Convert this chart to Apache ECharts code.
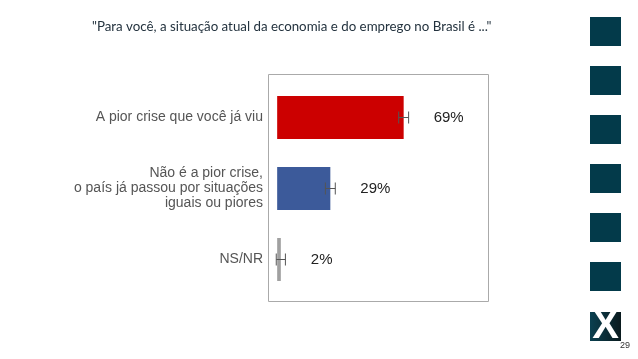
<!DOCTYPE html>
<html><head><meta charset="utf-8">
<script src="https://cdn.jsdelivr.net/npm/echarts@6/dist/echarts.min.js"></script>
<style>html,body{margin:0;padding:0;background:#fff}#c{width:638px;height:359px}</style>
</head><body><div id="c"></div>
<script>
const titleText = '"Para você, a situação atual da economia e do emprego no Brasil é ..."';
const categories = ['A pior crise que você já viu', 'Não é a pior crise,\no país já passou por situações\niguais ou piores', 'NS/NR'];
const values = [69, 29, 2];
const errors = [2.7, 2.7, 2.5];
const colors = ['#cc0000', '#3c5a9a', '#a0a0a0'];
const pageNumber = '29';

const errData = values.map((v, i) => [v - errors[i], v + errors[i], i]);

const squares = [];
const sqTops = [17, 66, 115, 164, 213, 262];
sqTops.forEach(t => squares.push({type:'rect', shape:{x:590, y:t, width:31, height:29}, style:{fill:'#033a4a'}, silent:true}));

const chart = echarts.init(document.getElementById('c'));
chart.setOption({
  animation:false,
  title:{text:titleText, left:87, top:15, textStyle:{fontFamily:'Lato', fontSize:13.3, fontWeight:'normal', color:'#24333f'}},
  grid:{left:268, right:150, top:82, bottom:64},
  xAxis:{type:'value', min:-5, max:115, show:false},
  yAxis:{type:'category', inverse:true, data:categories,
    axisLine:{show:false}, axisTick:{show:false},
    axisLabel:{margin:5, fontFamily:'Liberation Sans', fontSize:14, color:'#555', lineHeight:15, align:'right'}},
  series:[
    {type:'bar', data:values.map((v,i)=>({value:v, itemStyle:{color:colors[i]}})), barWidth:43,
     label:{show:true, position:'right', distance:30, formatter:'{c}%', fontFamily:'Liberation Sans', fontSize:15, color:'#222'}},
    {type:'custom', data:errData, encode:{x:[0,1], y:2}, z:5,
     renderItem:function(params, api){
       const lo = api.coord([api.value(0), api.value(2)]);
       const hi = api.coord([api.value(1), api.value(2)]);
       const h = 6;
       const st = {stroke:'#555', lineWidth:1};
       return {type:'group', children:[
         {type:'line', shape:{x1:lo[0], y1:lo[1], x2:hi[0], y2:hi[1]}, style:st},
         {type:'line', shape:{x1:lo[0], y1:lo[1]-h, x2:lo[0], y2:lo[1]+h}, style:st},
         {type:'line', shape:{x1:hi[0], y1:hi[1]-h, x2:hi[0], y2:hi[1]+h}, style:st}
       ]};
     }}
  ],
  graphic:[
    {type:'rect', shape:{x:268.5, y:74.5, width:220, height:227}, style:{fill:null, stroke:'#aaa', lineWidth:1}, silent:true, z:-1},
    ...squares,
    {type:'rect', shape:{x:590, y:312, width:31, height:29},
     style:{fill:new echarts.graphic.LinearGradient(0,0,1,0,[{offset:0,color:'#0a4050'},{offset:1,color:'#0a1a1e'}])}, silent:true},
    {type:'text', x:605.5, y:327, style:{text:'X', fontFamily:'Liberation Sans', fontWeight:'bold', fontSize:40, fill:'#fff', align:'center', verticalAlign:'middle'}, silent:true, z:10},
    {type:'text', x:625, y:346, style:{text:pageNumber, fontFamily:'Liberation Sans', fontSize:9, fill:'#333', align:'center', verticalAlign:'middle'}, silent:true}
  ]
});
</script></body></html>
